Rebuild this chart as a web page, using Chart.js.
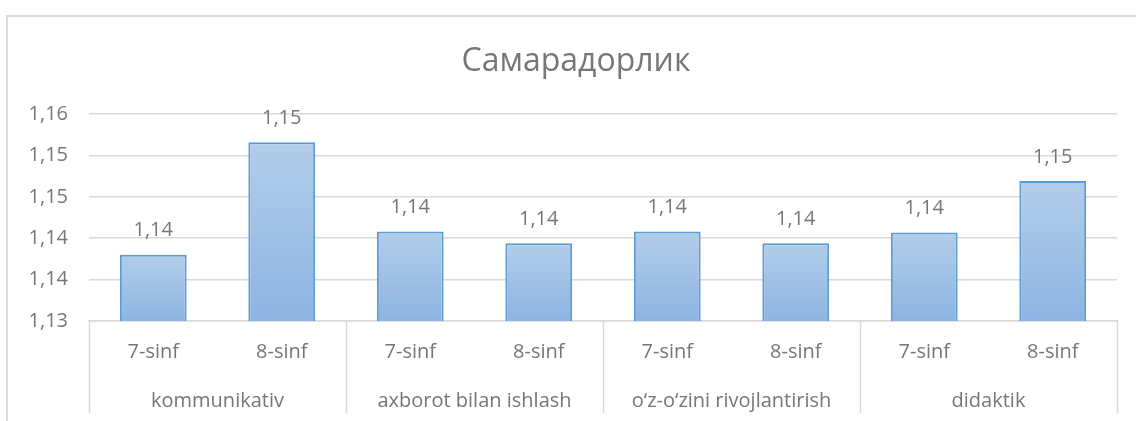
<!DOCTYPE html>
<html>
<head>
<meta charset="utf-8">
<script src="https://cdn.jsdelivr.net/npm/chart.js@4"></script>
<style>
  body { margin: 0; background: #fff; }
  #wrap { width: 1137px; height: 421px; }
</style>
</head>
<body>
<div id="wrap"><canvas id="chart-canvas"></canvas></div>
<script>
const chartTitle = 'Самарадорлик';
const groups = ['kommunikativ', 'axborot bilan ishlash', 'o‘z-o‘zini rivojlantirish', 'didaktik'];
const grades = ['7-sinf', '8-sinf', '7-sinf', '8-sinf', '7-sinf', '8-sinf', '7-sinf', '8-sinf'];
const values = [1.1380, 1.1516, 1.1408, 1.1394, 1.1408, 1.1394, 1.1407, 1.1469];
const yTickLabels = ['1,13', '1,14', '1,14', '1,15', '1,15', '1,16'];

const textColor = '#767676';
const lineColor = '#d9d9d9';
const fontFamily = '"Open Sans", "Noto Sans", sans-serif';

let chartCanvas = document.getElementById('chart-canvas');

// frame, title, group separators and value labels
const extras = {
    id: 'extras',
    beforeDraw(chart) {
        const ctx = chart.ctx;
        ctx.save();
        ctx.strokeStyle = lineColor;
        ctx.lineWidth = 2;
        ctx.beginPath();
        ctx.moveTo(7, 421);
        ctx.lineTo(7, 16);
        ctx.lineTo(1136, 16);
        ctx.stroke();

        ctx.fillStyle = textColor;
        ctx.font = '32px ' + fontFamily;
        ctx.textAlign = 'center';
        ctx.textBaseline = 'middle';
        ctx.fillText(chartTitle, 576, 62);
        ctx.restore();
    },
    afterDraw(chart) {
        const ctx = chart.ctx;
        const x = chart.scales.x;
        const area = chart.chartArea;
        ctx.save();
        ctx.strokeStyle = lineColor;
        ctx.lineWidth = 1.5;
        let edges = [area.left];
        for (let i = 2; i < grades.length; i += 2) {
            edges.push((x.getPixelForValue(i - 1) + x.getPixelForValue(i)) / 2);
        }
        edges.push(area.right);
        ctx.beginPath();
        edges.forEach(px => {
            ctx.moveTo(Math.round(px) + 0.5, area.bottom);
            ctx.lineTo(Math.round(px) + 0.5, 413);
        });
        ctx.stroke();

        ctx.fillStyle = textColor;
        ctx.font = '20px ' + fontFamily;
        ctx.textAlign = 'center';
        ctx.textBaseline = 'middle';
        chart.getDatasetMeta(0).data.forEach((bar, i) => {
            ctx.fillText(values[i].toFixed(2).replace('.', ','), bar.x, bar.y - 24);
        });
        ctx.restore();
    }
};

const myChart = new Chart(chartCanvas, {
    type: 'bar',
    data: {
        labels: grades,
        datasets: [{
            data: values,
            borderColor: '#5b9bd5',
            borderWidth: 2,
            borderSkipped: 'bottom',
            categoryPercentage: 1,
            barPercentage: 0.52,
            backgroundColor: (c) => {
                const chart = c.chart;
                if (!chart.chartArea || c.dataIndex === undefined) return '#a5c2e6';
                const top = chart.scales.y.getPixelForValue(values[c.dataIndex]);
                const g = chart.ctx.createLinearGradient(0, top, 0, chart.chartArea.bottom);
                g.addColorStop(0, '#b3cdea');
                g.addColorStop(1, '#8db4e2');
                return g;
            }
        }]
    },
    options: {
        responsive: true,
        maintainAspectRatio: false,
        animation: false,
        layout: { padding: { left: 0, right: 20, top: 0, bottom: 0 } },
        plugins: {
            legend: { display: false },
            tooltip: { enabled: false },
            title: {
                display: true,
                text: '',
                font: { family: fontFamily, size: 30, weight: 'normal', lineHeight: 1.2 },
                padding: { top: 44, bottom: 34 }
            }
        },
        scales: {
            y: {
                min: 1.13,
                max: 1.155,
                ticks: {
                    stepSize: 0.005,
                    color: textColor,
                    padding: 21,
                    font: { family: fontFamily, size: 20 },
                    callback: (v, i) => yTickLabels[i]
                },
                grid: { color: lineColor, lineWidth: 1.5, drawTicks: false },
                border: { display: false },
                afterFit: (s) => { s.width = 89; }
            },
            x: {
                position: 'bottom',
                ticks: {
                    color: textColor,
                    padding: 19,
                    font: { family: fontFamily, size: 20 },
                    maxRotation: 0,
                    autoSkip: false
                },
                grid: { display: false, drawTicks: false },
                border: { display: true, color: lineColor, width: 1.5 },
                afterFit: (s) => { s.height = 48; }
            },
            x2: {
                type: 'category',
                position: 'bottom',
                labels: groups,
                offset: true,
                ticks: {
                    color: textColor,
                    padding: 20,
                    font: { family: fontFamily, size: 20 },
                    maxRotation: 0,
                    autoSkip: false
                },
                grid: { display: false, drawTicks: false },
                border: { display: false },
                afterFit: (s) => { s.height = 52; }
            }
        }
    },
    plugins: [extras]
});
</script>
</body>
</html>
